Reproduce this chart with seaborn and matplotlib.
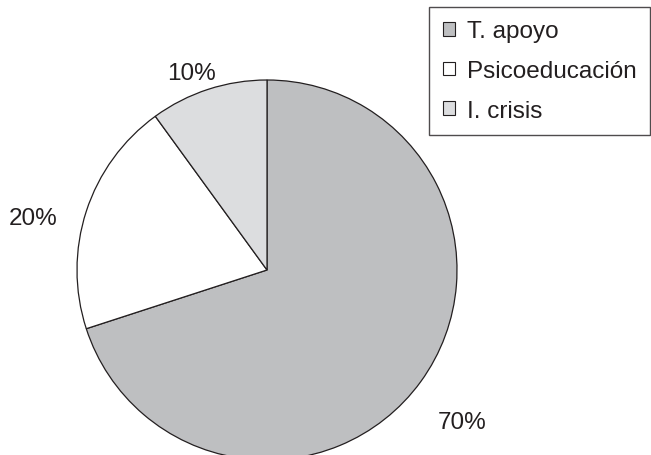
import numpy as np
import matplotlib
matplotlib.use("Agg")
import matplotlib.pyplot as plt
import seaborn as sns

categories = ["T. apoyo", "Psicoeducación", "I. crisis"]
shares = [70, 20, 10]
pct_labels = ["70%", "20%", "10%"]
colors = ["#bebfc1", "#ffffff", "#dcdddf"]
label_radius = [1.30, 1.26, 1.11]
label_angle_shift = [-2.0, 5.5, 3.0]

sns.set_theme(style="white")
plt.rcParams["font.family"] = ["Liberation Sans", "DejaVu Sans"]

fig = plt.figure(figsize=(6.51, 4.56), dpi=100)
ax = fig.add_axes([77 / 651, -5 / 456, 380 / 651, 380 / 456])

wedges, _ = ax.pie(
    shares,
    colors=colors,
    startangle=90,
    counterclock=False,
    wedgeprops=dict(edgecolor="#231f20", linewidth=0.9),
)
ax.set_xlim(-1, 1)
ax.set_ylim(-1, 1)

# percentage labels placed outside each wedge near its mid-angle
for w, txt, r, s in zip(wedges, pct_labels, label_radius, label_angle_shift):
    mid = np.deg2rad((w.theta1 + w.theta2) / 2 + s)
    ax.text(r * np.cos(mid), r * np.sin(mid), txt, ha="center", va="center",
            fontsize=17.5, color="#231f20", clip_on=False)

leg = fig.legend(
    wedges, categories,
    loc="upper right", bbox_to_anchor=(650 / 651, 1 - 8 / 456),
    frameon=True, fancybox=False, fontsize=17.5,
    handlelength=0.5, handleheight=0.5, handletextpad=0.5,
    labelspacing=0.73, borderpad=0.55, borderaxespad=0,
    labelcolor="#231f20",
)
frame = leg.get_frame()
frame.set_edgecolor("#231f20")
frame.set_linewidth(1.0)
for h in leg.legend_handles:
    h.set_edgecolor("#231f20")
    h.set_linewidth(0.8)

fig.savefig("out.png", dpi=100)
